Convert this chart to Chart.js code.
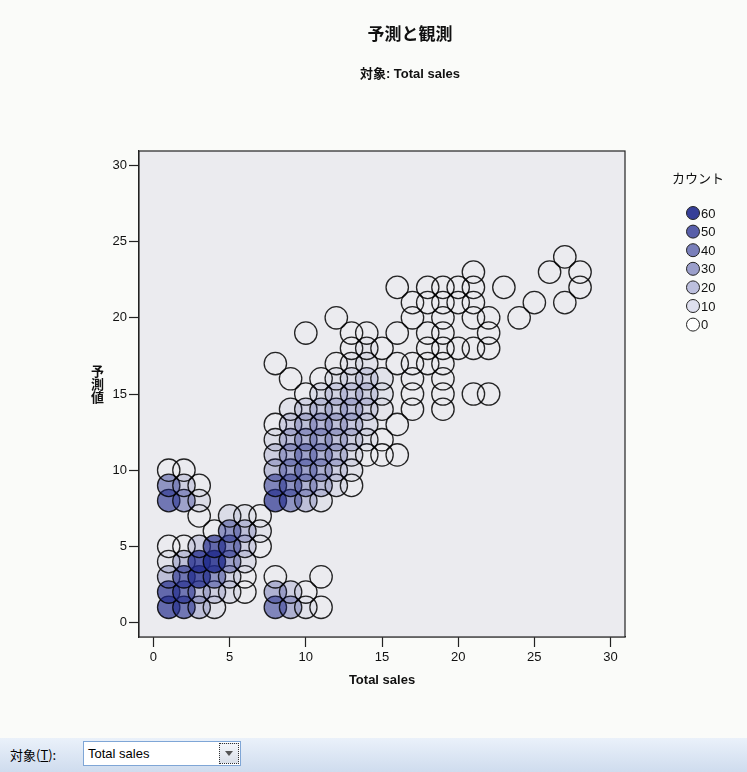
<!DOCTYPE html>
<html lang="ja">
<head>
<meta charset="utf-8">
<title>予測と観測</title>
<script src="https://cdn.jsdelivr.net/npm/chart.js@4.4.1/dist/chart.umd.min.js"></script>
<style>
  html, body { margin: 0; padding: 0; }
  body {
    width: 747px; height: 772px; position: relative; overflow: hidden;
    background: #fafbf9;
    font-family: "Liberation Sans", Arial, "Noto Sans CJK JP", sans-serif;
  }
  #chart { position: absolute; left: 0; top: 0; }
  .title {
    position: absolute; left: 260px; width: 300px; text-align: center;
    font-weight: bold; color: #111;
  }
  #mainTitle { top: 20px; font-size: 17px; font-family: "Noto Sans CJK JP", sans-serif; }
  #subTitle { top: 63px; font-size: 13px; font-family: "Liberation Sans", Arial, "Noto Sans CJK JP", sans-serif; }
  #yTitle {
    position: absolute; left: 90px; top: 365px;
    writing-mode: vertical-rl; font-weight: bold; font-size: 13px; line-height: 14px;
    font-family: "Noto Sans CJK JP", sans-serif; color: #111;
  }
  #bar {
    position: absolute; left: 0; top: 738px; width: 747px; height: 34px;
    background: linear-gradient(#eaf1fa, #cfdcee);
  }
  #barLabel { position: absolute; left: 10px; top: 9px; font-size: 13px; color: #000;
    font-family: "Noto Sans CJK JP", sans-serif; line-height: 16px; }
  #combo {
    position: absolute; left: 83px; top: 3px; width: 158px; height: 25px; box-sizing: border-box;
    background: #fff; border: 1px solid #7fa6d6;
  }
  #combo span { position: absolute; left: 4px; top: 4px; font-size: 13px; color: #000;
    font-family: "Liberation Sans", Arial, sans-serif; }
  #btn {
    position: absolute; right: 1px; top: 1px; width: 20px; height: 21px; box-sizing: border-box;
    border: 1px dotted #333; background: linear-gradient(#f4f6fa, #d9dfe8);
  }
  #btn::after {
    content: ""; position: absolute; left: 5px; top: 7px;
    border-left: 4px solid transparent; border-right: 4px solid transparent; border-top: 5px solid #555;
  }
</style>
</head>
<body>
<canvas id="chart" width="747" height="738"></canvas>
<div id="mainTitle" class="title">予測と観測</div>
<div id="subTitle" class="title">対象: Total sales</div>
<div id="yTitle">予測値</div>
<div id="bar">
  <span id="barLabel">対象(<u>T</u>):</span>
  <div id="combo"><span>Total sales</span><div id="btn"></div></div>
</div>
<script>
// predicted value of each row, the observed values in that row, and the count at each circle
const predictedRows = [1, 2, 3, 4, 5, 6, 7, 8, 9, 10, 11, 12, 13, 14, 15, 16, 17, 18, 19, 20, 21, 22, 23, 24];
const observedByRow = [
  [1, 2, 3, 4, 8, 9, 10, 11],
  [1, 2, 3, 4, 5, 6, 8, 9, 10],
  [1, 2, 3, 4, 5, 6, 8, 11],
  [1, 2, 3, 4, 5, 6],
  [1, 2, 3, 4, 5, 6, 7],
  [4, 5, 6, 7],
  [3, 5, 6, 7],
  [1, 2, 3, 8, 9, 10, 11],
  [1, 2, 3, 8, 9, 10, 11, 12, 13],
  [1, 2, 8, 9, 10, 11, 12, 13],
  [8, 9, 10, 11, 12, 13, 14, 15, 16],
  [8, 9, 10, 11, 12, 13, 14, 15],
  [8, 9, 10, 11, 12, 13, 14, 16],
  [9, 10, 11, 12, 13, 14, 15, 17, 19],
  [10, 11, 12, 13, 14, 15, 17, 19, 21, 22],
  [9, 11, 12, 13, 14, 15, 17, 19],
  [8, 12, 13, 14, 16, 17, 18, 19],
  [13, 14, 15, 18, 19, 20, 21, 22],
  [10, 13, 14, 16, 18, 19, 22],
  [12, 17, 19, 21, 22, 24],
  [17, 18, 19, 20, 21, 25, 27],
  [16, 18, 19, 20, 21, 23, 28],
  [21, 26, 28],
  [27]
];
const countsByRow = [
  [45, 40, 15, 3, 35, 20, 3, 0],
  [45, 40, 15, 10, 5, 0, 20, 10, 0],
  [15, 40, 50, 30, 8, 0, 0, 0],
  [3, 15, 50, 55, 25, 5],
  [0, 0, 10, 45, 35, 10, 0],
  [0, 30, 15, 3],
  [0, 5, 3, 0],
  [40, 25, 5, 45, 30, 15, 3],
  [30, 10, 0, 35, 30, 20, 15, 5, 0],
  [0, 0, 15, 25, 25, 20, 10, 3],
  [10, 20, 25, 20, 15, 5, 0, 0, 0],
  [5, 15, 20, 20, 15, 10, 3, 0],
  [0, 10, 15, 18, 15, 12, 5, 0],
  [3, 8, 12, 12, 15, 8, 2, 0, 0],
  [0, 5, 8, 10, 10, 3, 0, 0, 0, 0],
  [0, 0, 3, 5, 8, 3, 0, 0],
  [0, 0, 2, 3, 0, 0, 0, 0],
  [0, 2, 0, 0, 0, 0, 0, 0],
  [0, 0, 0, 0, 0, 0, 0],
  [0, 0, 0, 0, 0, 0],
  [0, 0, 0, 0, 0, 0, 0],
  [0, 0, 0, 0, 0, 0, 0],
  [0, 0, 0],
  [0]
];
const xTicks = [0, 5, 10, 15, 20, 25, 30];
const yTicks = [0, 5, 10, 15, 20, 25, 30];
const legendCounts = [60, 50, 40, 30, 20, 10, 0];
const maxCount = 60;

const points = [];
const pointCounts = [];
predictedRows.forEach((y, i) => {
  observedByRow[i].forEach((x, j) => {
    points.push({ x: x, y: y });
    pointCounts.push(countsByRow[i][j]);
  });
});

// blue that gets stronger with the count
function countColor(c, opaque) {
  const a = (c / maxCount) * 0.9;
  if (opaque) {
    const r = Math.round(255 - a * (255 - 32));
    const g = Math.round(255 - a * (255 - 42));
    const b = Math.round(255 - a * (255 - 140));
    return `rgb(${r}, ${g}, ${b})`;
  }
  return `rgba(32, 42, 140, ${a.toFixed(3)})`;
}

const axisFont = '"Liberation Sans", Arial, sans-serif';

const plotFrame = {
  id: 'plotFrame',
  beforeDatasetsDraw(chart) {
    const { ctx, chartArea: a } = chart;
    ctx.save();
    ctx.fillStyle = '#ebebef';
    ctx.fillRect(a.left, a.top, a.right - a.left, a.bottom - a.top);
    ctx.restore();
  },
  afterDraw(chart) {
    const { ctx, chartArea: a } = chart;
    ctx.save();
    ctx.strokeStyle = '#222';
    ctx.lineWidth = 1.2;
    ctx.strokeRect(a.left, a.top, a.right - a.left, a.bottom - a.top);
    ctx.restore();
  }
};

const countLegend = {
  id: 'countLegend',
  afterDraw(chart) {
    const ctx = chart.ctx;
    ctx.save();
    ctx.textBaseline = 'middle';
    ctx.fillStyle = '#111';
    ctx.font = '13px "Noto Sans CJK JP", sans-serif';
    ctx.fillText('カウント', 672, 178);
    legendCounts.forEach((c, i) => {
      const y = 213 + i * 18.6;
      ctx.beginPath();
      ctx.arc(693, y, 6.5, 0, Math.PI * 2);
      ctx.fillStyle = countColor(c, true);
      ctx.fill();
      ctx.strokeStyle = '#222';
      ctx.lineWidth = 1;
      ctx.stroke();
      ctx.fillStyle = '#111';
      ctx.font = '13px ' + axisFont;
      ctx.fillText(String(c), 701, y + 1);
    });
    ctx.restore();
  }
};

new Chart(document.getElementById('chart'), {
  type: 'bubble',
  data: {
    datasets: [{
      label: 'カウント',
      data: points,
      radius: 11.2,
      borderWidth: 1.3,
      borderColor: 'rgba(0, 0, 0, 0.85)',
      backgroundColor: ctx => countColor(pointCounts[ctx.dataIndex] || 0, false)
    }]
  },
  options: {
    responsive: false,
    animation: false,
    events: [],
    layout: { padding: { left: 0, top: 151, right: 122, bottom: 0 } },
    plugins: { legend: { display: false }, tooltip: { enabled: false } },
    scales: {
      x: {
        type: 'linear', position: 'bottom', min: -0.95, max: 30.95,
        afterBuildTicks: axis => { axis.ticks = xTicks.map(v => ({ value: v })); },
        afterFit: axis => { axis.height = 101; },
        grid: { drawOnChartArea: false, drawTicks: true, tickLength: 10, tickColor: '#222', tickWidth: 1.2 },
        border: { display: true, color: '#222', width: 1.2 },
        ticks: { color: '#111', padding: 3, font: { family: axisFont, size: 13 }, maxRotation: 0 },
        title: { display: true, text: 'Total sales', color: '#111',
          font: { family: axisFont, size: 13, weight: 'bold' }, padding: { top: 0, bottom: 50 } }
      },
      y: {
        type: 'linear', min: -0.95, max: 30.95,
        afterBuildTicks: axis => { axis.ticks = yTicks.map(v => ({ value: v })); },
        afterFit: axis => { axis.width = 139; },
        grid: { drawOnChartArea: false, drawTicks: true, tickLength: 10, tickColor: '#222', tickWidth: 1.2 },
        border: { display: true, color: '#222', width: 1.2 },
        ticks: { color: '#111', padding: 2, font: { family: axisFont, size: 13 } }
      }
    }
  },
  plugins: [plotFrame, countLegend]
});
</script>
</body>
</html>
